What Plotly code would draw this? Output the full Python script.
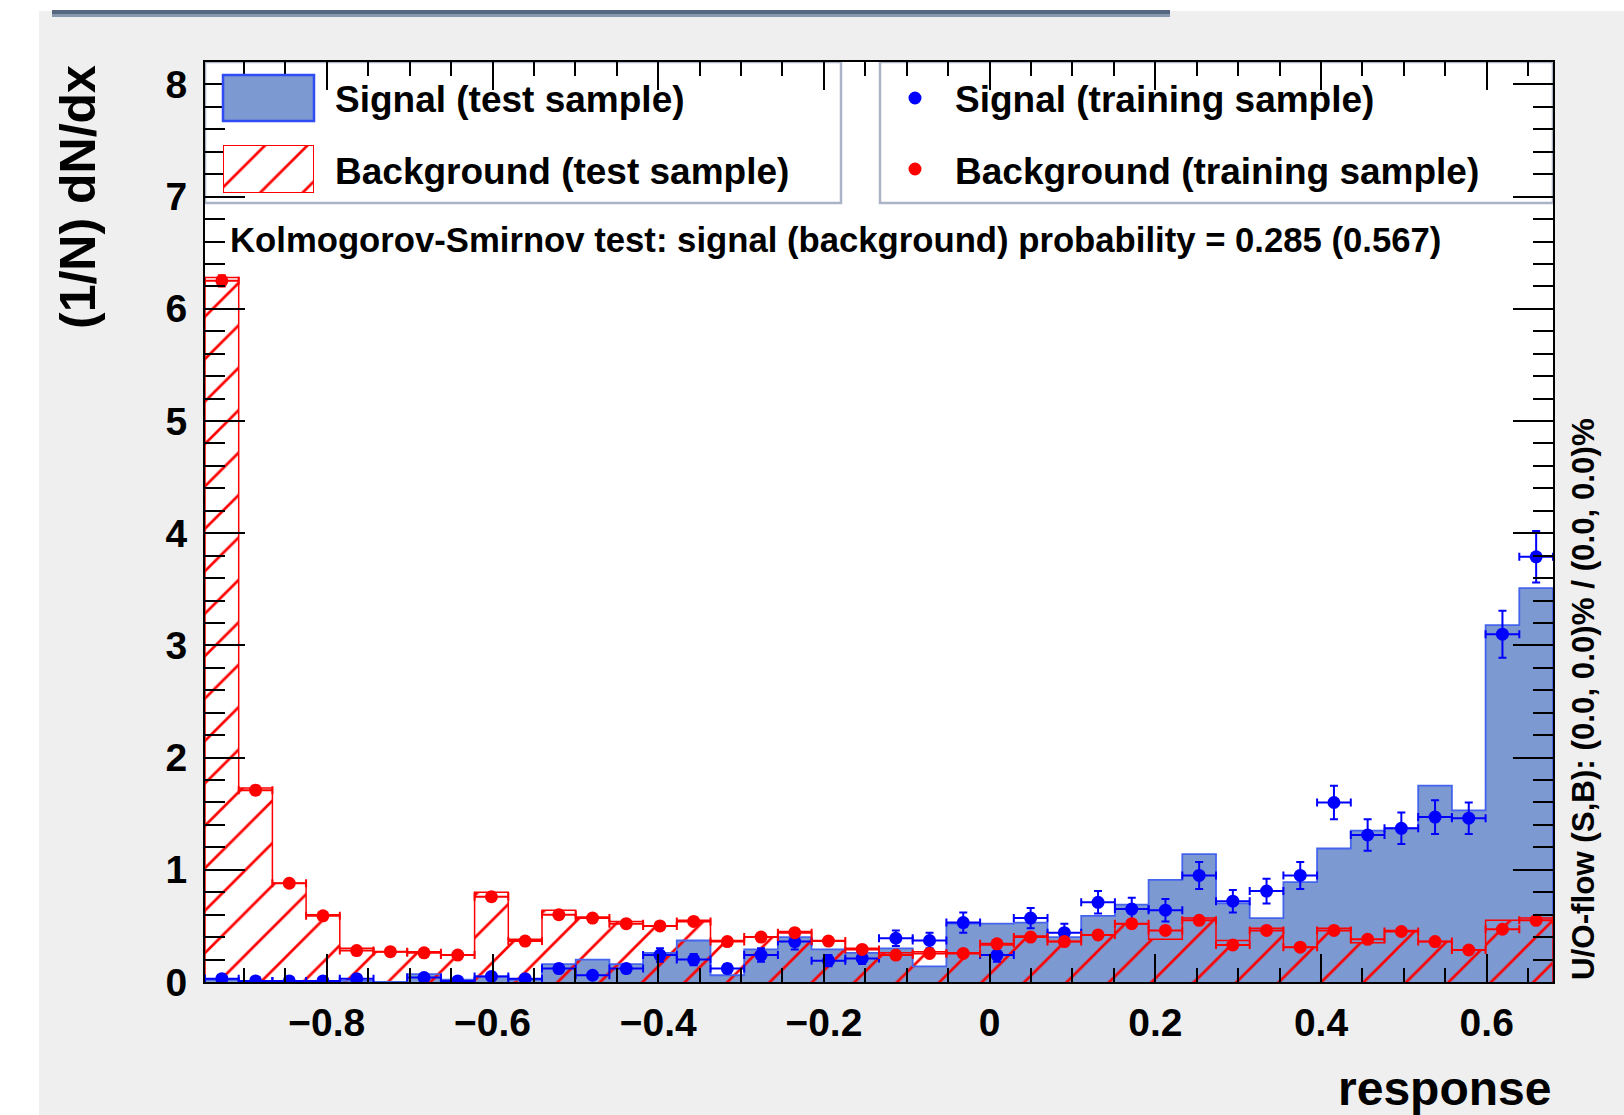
import numpy as np
import plotly.graph_objects as go

# ---------------- data ----------------
XMIN, XMAX, NBINS = -0.947, 0.680, 40

sig_test = [0.02, 0.01, 0.01, 0.00, 0.01, 0.00, 0.07, 0.02, 0.05, 0.02,
            0.16, 0.20, 0.16, 0.26, 0.37, 0.06, 0.29, 0.40, 0.29, 0.26,
            0.30, 0.14, 0.52, 0.52, 0.53, 0.40, 0.59, 0.69, 0.91, 1.14,
            0.70, 0.57, 0.89, 1.19, 1.35, 1.37, 1.75, 1.53, 3.18, 3.51]

bkg_test = [6.28, 1.73, 0.88, 0.60, 0.30, 0.27, 0.27, 0.24, 0.80, 0.38,
            0.64, 0.58, 0.54, 0.50, 0.55, 0.37, 0.40, 0.45, 0.37, 0.30,
            0.26, 0.27, 0.26, 0.33, 0.41, 0.36, 0.42, 0.52, 0.38, 0.57,
            0.37, 0.48, 0.31, 0.48, 0.35, 0.46, 0.36, 0.285, 0.55, 0.57]

sig_train = [0.03, 0.01, 0.01, 0.01, 0.03, None, 0.04, 0.01, 0.05, 0.03,
             0.12, 0.06, 0.12, 0.24, 0.20, 0.12, 0.24, 0.36, 0.19, 0.21,
             0.39, 0.37, 0.53, 0.24, 0.57, 0.44, 0.71, 0.65, 0.64, 0.95,
             0.72, 0.81, 0.95, 1.60, 1.31, 1.37, 1.47, 1.46, 3.10, 3.79]
sig_train_err = [0.02, 0.01, 0.01, 0.01, 0.02, 0.0, 0.02, 0.01, 0.03, 0.02,
                 0.04, 0.03, 0.04, 0.06, 0.05, 0.04, 0.06, 0.07, 0.05, 0.05,
                 0.07, 0.07, 0.09, 0.06, 0.09, 0.08, 0.10, 0.10, 0.10, 0.12,
                 0.10, 0.11, 0.12, 0.15, 0.14, 0.14, 0.15, 0.14, 0.21, 0.23]

bkg_train = [6.25, 1.71, 0.88, 0.59, 0.28, 0.27, 0.26, 0.24, 0.76, 0.365,
             0.60, 0.57, 0.52, 0.50, 0.54, 0.36, 0.40, 0.44, 0.365, 0.29,
             0.24, 0.255, 0.255, 0.34, 0.40, 0.36, 0.42, 0.52, 0.46, 0.55,
             0.33, 0.46, 0.31, 0.46, 0.38, 0.45, 0.36, 0.285, 0.47, 0.55]
bkg_train_err = [0.05, 0.04, 0.03, 0.03, 0.02, 0.02, 0.02, 0.02, 0.03, 0.025,
                 0.03, 0.03, 0.03, 0.03, 0.03, 0.025, 0.025, 0.025, 0.025, 0.02,
                 0.02, 0.02, 0.02, 0.025, 0.025, 0.025, 0.025, 0.03, 0.03, 0.03,
                 0.025, 0.03, 0.025, 0.03, 0.025, 0.03, 0.025, 0.02, 0.03, 0.03]

legend_left = ["Signal (test sample)", "Background (test sample)"]
legend_right = ["Signal (training sample)", "Background (training sample)"]
ks_text = "Kolmogorov-Smirnov test: signal (background) probability = 0.285 (0.567)"
uo_text = "U/O-flow (S,B): (0.0, 0.0)% / (0.0, 0.0)%"
x_title = "response"
y_title = "(1/N) dN/dx"

# ---------------- styling ----------------
FONT = "Liberation Sans, Arial, Helvetica, sans-serif"
SIG_FILL = "#7d99d1"
SIG_LINE = "#4464ee"
SIG_PT = "#0000ff"
BKG = "#ff0000"
CLEAR = "rgba(0,0,0,0)"
CANVAS = "#efefef"
LEG_BORDER = "#aab4c6"

W, H = 1624, 1115
L, R, T, B = 205, 1553, 62, 982   # plot frame in pixels
PW, PH = R - L, B - T


def px_x(px):
    return (px - L) / PW


def px_y(py):
    return (B - py) / PH


edges = np.linspace(XMIN, XMAX, NBINS + 1)
centers = 0.5 * (edges[:-1] + edges[1:])
bw = edges[1] - edges[0]
half = [bw / 2] * NBINS


def step(vals):
    xs = [edges[0]] + list(edges[:-1]) + [edges[-1], edges[-1]]
    ys = [0] + list(vals) + [vals[-1], 0]
    return xs, ys


HATCH = dict(shape="/", size=30, solidity=0.09, fgcolor=BKG, bgcolor=CLEAR, fillmode="replace")

fig = go.Figure()

# signal test: filled histogram
fig.add_trace(go.Bar(x=centers, y=sig_test, width=bw, base=0,
                     marker=dict(color=SIG_FILL, line=dict(width=0)),
                     hoverinfo="skip"))
sx, sy = step(sig_test)
fig.add_trace(go.Scatter(x=sx, y=sy, mode="lines", line=dict(color=SIG_LINE, width=1.8, shape="hv"),
                         hoverinfo="skip"))

# background test: hatched histogram
fig.add_trace(go.Bar(x=centers, y=bkg_test, width=bw, base=0,
                     marker=dict(color=CLEAR, line=dict(width=0), pattern=HATCH),
                     hoverinfo="skip"))
bx, by = step(bkg_test)
fig.add_trace(go.Scatter(x=bx, y=by, mode="lines", line=dict(color=BKG, width=1.5, shape="hv"),
                         hoverinfo="skip"))

# training points
fig.add_trace(go.Scatter(x=centers, y=sig_train, mode="markers",
                         marker=dict(color=SIG_PT, size=13),
                         error_x=dict(type="data", array=half, color=SIG_PT, thickness=2, width=4),
                         error_y=dict(type="data", array=sig_train_err, color=SIG_PT, thickness=2, width=4)))
fig.add_trace(go.Scatter(x=centers, y=bkg_train, mode="markers",
                         marker=dict(color=BKG, size=13),
                         error_x=dict(type="data", array=half, color=BKG, thickness=2, width=4),
                         error_y=dict(type="data", array=bkg_train_err, color=BKG, thickness=2, width=4)))

# hatched legend swatch on its own small axes
sw_x0, sw_x1 = px_x(223), px_x(314)
fig.add_trace(go.Bar(x=[0.5], y=[1], width=1, base=0, xaxis="x2", yaxis="y2",
                     marker=dict(color=CLEAR, line=dict(color=BKG, width=2), pattern=HATCH),
                     hoverinfo="skip"))

tickfont = dict(family=FONT, size=39, color="black", weight=700)

fig.update_layout(
    width=W, height=H,
    margin=dict(l=L, r=W - R, t=T, b=H - B, pad=0),
    paper_bgcolor=CANVAS, plot_bgcolor="white",
    showlegend=False, barmode="overlay", bargap=0,
    xaxis=dict(range=[XMIN, XMAX], dtick=0.2, tick0=0, ticks="inside", ticklen=28, tickwidth=2,
               tickcolor="black", showline=True, linecolor="black", linewidth=2, mirror="allticks",
               showgrid=False, zeroline=False, tickfont=tickfont, ticklabelstandoff=5,
               minor=dict(dtick=0.05, tick0=0, ticks="inside", ticklen=14, tickwidth=2, tickcolor="black")),
    yaxis=dict(range=[0, 8.2], dtick=1, tick0=0, ticks="inside", ticklen=40, tickwidth=2,
               tickcolor="black", showline=True, linecolor="black", linewidth=2, mirror="allticks",
               showgrid=False, zeroline=False, tickfont=tickfont, ticklabelstandoff=8,
               minor=dict(dtick=0.2, tick0=0, ticks="inside", ticklen=20, tickwidth=2, tickcolor="black")),
    xaxis2=dict(domain=[sw_x0, sw_x1], range=[0, 1], visible=False, anchor="y2", fixedrange=True),
    yaxis2=dict(domain=[px_y(193), px_y(145)], range=[0, 1], visible=False, anchor="x2", fixedrange=True),
)

shapes = []
# white strips of the page and the thin title bar
shapes.append(dict(type="rect", xref="paper", yref="paper", layer="below",
                   x0=px_x(0), x1=px_x(W), y0=px_y(11), y1=px_y(0),
                   fillcolor="white", line=dict(width=0)))
shapes.append(dict(type="rect", xref="paper", yref="paper", layer="below",
                   x0=px_x(0), x1=px_x(39), y0=px_y(H), y1=px_y(0),
                   fillcolor="white", line=dict(width=0)))
shapes.append(dict(type="rect", xref="paper", yref="paper", layer="above",
                   x0=px_x(52), x1=px_x(1170), y0=px_y(14), y1=px_y(10),
                   fillcolor="#56677f", line=dict(width=0)))
shapes.append(dict(type="rect", xref="paper", yref="paper", layer="above",
                   x0=px_x(52), x1=px_x(1170), y0=px_y(17), y1=px_y(14),
                   fillcolor="#8797ae", line=dict(width=0)))
# legend boxes
for x0, x1 in [(L, 841), (880, R)]:
    shapes.append(dict(type="rect", xref="x domain", yref="y domain", layer="below",
                       x0=px_x(x0), x1=px_x(x1), y0=px_y(203), y1=px_y(T),
                       fillcolor="white", line=dict(color=LEG_BORDER, width=2.5)))
# signal (test) swatch
shapes.append(dict(type="rect", xref="paper", yref="paper", layer="above",
                   x0=sw_x0, x1=sw_x1, y0=px_y(121), y1=px_y(75),
                   fillcolor=SIG_FILL, line=dict(color="#2f4cf5", width=2.5)))
# training dots
for cy, col in [(98, SIG_PT), (169, BKG)]:
    shapes.append(dict(type="circle", xref="paper", yref="paper", layer="above",
                       x0=px_x(915 - 6.5), x1=px_x(915 + 6.5), y0=px_y(cy + 6.5), y1=px_y(cy - 6.5),
                       fillcolor=col, line=dict(width=0)))
fig.update_layout(shapes=shapes)

ann = []
legfont = dict(family=FONT, size=37, color="black", weight=700)
for txt, cy in zip(legend_left, [100, 171]):
    ann.append(dict(text=txt, xref="paper", yref="paper", x=px_x(333), y=px_y(cy),
                    xanchor="left", yanchor="middle", showarrow=False, font=legfont))
for txt, cy in zip(legend_right, [100, 171]):
    ann.append(dict(text=txt, xref="paper", yref="paper", x=px_x(953), y=px_y(cy),
                    xanchor="left", yanchor="middle", showarrow=False, font=legfont))
ann.append(dict(text=ks_text, xref="paper", yref="paper", x=px_x(228), y=px_y(240),
                xanchor="left", yanchor="middle", showarrow=False,
                font=dict(family=FONT, size=34.7, color="black", weight=700)))
ann.append(dict(text=uo_text, xref="paper", yref="paper", x=px_x(1583), y=0,
                xanchor="center", yanchor="bottom", textangle=-90, showarrow=False,
                font=dict(family=FONT, size=31.3, color="black", weight=700)))
ann.append(dict(text=y_title, xref="paper", yref="paper", x=px_x(78), y=px_y(63),
                xanchor="center", yanchor="top", textangle=-90, showarrow=False,
                font=dict(family=FONT, size=50, color="black", weight=700)))
ann.append(dict(text=x_title, xref="paper", yref="paper", x=1, y=px_y(1088),
                xanchor="right", yanchor="middle", showarrow=False,
                font=dict(family=FONT, size=48, color="black", weight=700)))
fig.update_layout(annotations=ann)

fig.write_html("out.html", config={"displayModeBar": False},
               post_script="document.body.style.margin='0';document.body.style.overflow='hidden';")
